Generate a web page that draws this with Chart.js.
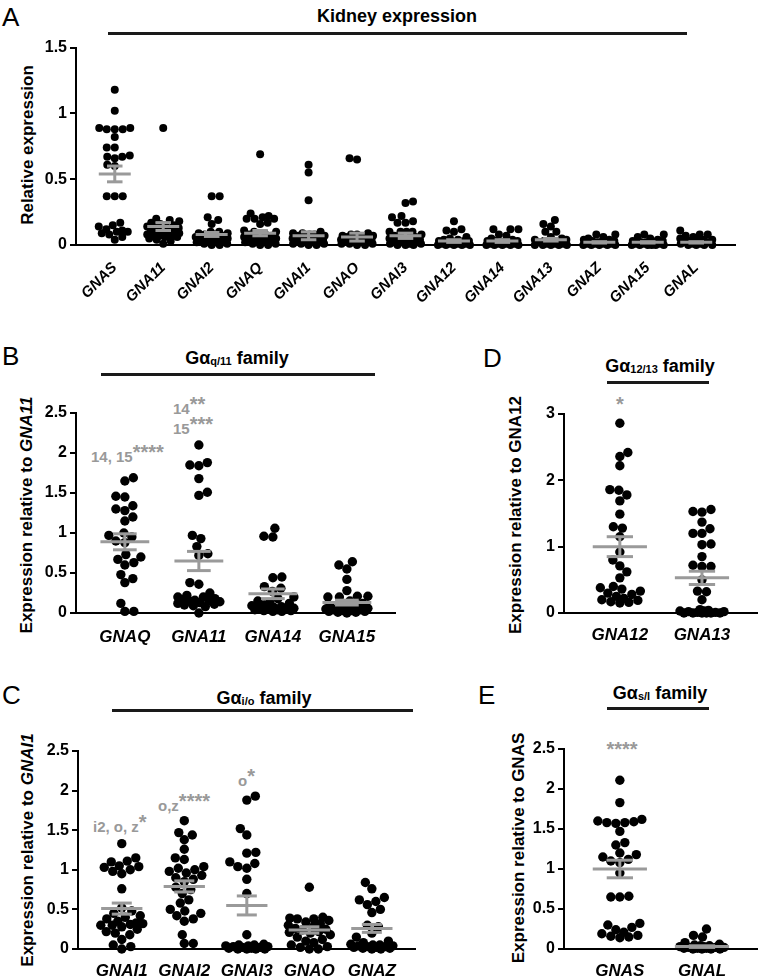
<!DOCTYPE html>
<html>
<head>
<meta charset="utf-8">
<title>G alpha subunit expression in kidney</title>
<script src="https://cdn.jsdelivr.net/npm/chart.js@4.4.1/dist/chart.umd.min.js"></script>
<style>
  body { margin:0; width:762px; height:980px; position:relative; overflow:hidden; background:#fff; font-family:'Liberation Sans', Arial, sans-serif; color:#000; }
  canvas { position:absolute; }
  .t { position:absolute; white-space:nowrap; line-height:1; }
  .letter { font-size:26px; }
  .head { font-size:18px; font-weight:bold; transform:translate(-50%,-50%); }
  .head sub { font-size:11px; vertical-align:-1px; }
  .bar { position:absolute; height:3px; background:#1a1a1a; }
  .ytitle { font-size:17px; font-weight:bold; transform:translate(-50%,-50%) rotate(-90deg); }
  .ann { font-size:15px; font-weight:bold; color:#999; }
  .ann .st { font-size:20px; position:relative; top:-3px; }
  .star { font-size:20px; font-weight:bold; color:#999; transform:translateX(-50%); }
</style>
</head>
<body>
  <!-- A -->
  <div class="t letter" style="left:2px;top:4px">A</div>
  <div class="t head" style="left:397px;top:16px">Kidney expression</div>
  <div class="bar" style="left:108px;top:32px;width:579px"></div>
  <div class="t ytitle" style="left:27px;top:145px">Relative expression</div>
  <canvas id="chartA" width="750" height="270" style="left:0;top:35px"></canvas>

  <!-- B -->
  <div class="t letter" style="left:2px;top:343px">B</div>
  <div class="t head" style="left:237px;top:358px">Gα<sub>q/11</sub> family</div>
  <div class="bar" style="left:101px;top:373px;width:274px"></div>
  <div class="t ytitle" style="left:26px;top:515px">Expression relative to <i>GNA11</i></div>
  <div class="t ann" style="left:91px;top:445px">14, 15<span class="st">****</span></div>
  <div class="t ann" style="left:173px;top:397px">14<span class="st">**</span></div>
  <div class="t ann" style="left:173px;top:417px">15<span class="st">***</span></div>
  <canvas id="chartB" width="410" height="270" style="left:0;top:380px"></canvas>

  <!-- D -->
  <div class="t letter" style="left:483px;top:345px">D</div>
  <div class="t head" style="left:660px;top:366px">Gα<sub>12/13</sub> family</div>
  <div class="bar" style="left:607px;top:381px;width:102px"></div>
  <div class="t ytitle" style="left:515px;top:515px">Expression relative to GNA12</div>
  <div class="t star" style="left:620px;top:394px">*</div>
  <canvas id="chartD" width="272" height="270" style="left:490px;top:380px"></canvas>

  <!-- C -->
  <div class="t letter" style="left:2px;top:682px">C</div>
  <div class="t head" style="left:264px;top:698px">Gα<sub>i/o</sub> family</div>
  <div class="bar" style="left:112px;top:709px;width:301px"></div>
  <div class="t ytitle" style="left:27px;top:850px">Expression relative to <i>GNAI1</i></div>
  <div class="t ann" style="left:93px;top:815px">i2, o, z<span class="st">*</span></div>
  <div class="t ann" style="left:158px;top:794px">o,z<span class="st">****</span></div>
  <div class="t ann" style="left:238px;top:769px">o<span class="st">*</span></div>
  <canvas id="chartC" width="425" height="260" style="left:0;top:720px"></canvas>

  <!-- E -->
  <div class="t letter" style="left:478px;top:682px">E</div>
  <div class="t head" style="left:660px;top:693px">Gα<sub>s/l</sub> family</div>
  <div class="bar" style="left:607px;top:707px;width:102px"></div>
  <div class="t ytitle" style="left:518px;top:848px">Expression relative to GNAS</div>
  <div class="t star" style="left:622px;top:739px">****</div>
  <canvas id="chartE" width="272" height="260" style="left:490px;top:720px"></canvas>

<script>
// ---------------- Data ----------------
const kidneyGenes = ["GNAS", "GNA11", "GNAI2", "GNAQ", "GNAI1", "GNAO", "GNAI3", "GNA12", "GNA14", "GNA13", "GNAZ", "GNA15", "GNAL"];
const kidneyValues = [
  [1.18, 1.02, 0.89, 0.88, 0.88, 0.89, 0.88, 0.82, 0.74, 0.74, 0.68, 0.67, 0.66, 0.67, 0.61, 0.6, 0.37, 0.37, 0.37, 0.17, 0.15, 0.14, 0.12, 0.11, 0.1, 0.1, 0.09, 0.08, 0.06, 0.04],
  [0.89, 0.2, 0.19, 0.18, 0.17, 0.16, 0.15, 0.15, 0.14, 0.14, 0.13, 0.12, 0.12, 0.11, 0.1, 0.1, 0.09, 0.09, 0.08, 0.08, 0.08, 0.07, 0.07, 0.06, 0.06, 0.05, 0.04, 0.03, 0.01],
  [0.37, 0.37, 0.21, 0.19, 0.16, 0.1, 0.1, 0.09, 0.09, 0.08, 0.08, 0.07, 0.07, 0.06, 0.06, 0.05, 0.05, 0.04, 0.04, 0.03, 0.03, 0.02, 0.02, 0.02, 0.01, 0.01, 0.0, 0.0],
  [0.69, 0.24, 0.22, 0.2, 0.2, 0.2, 0.21, 0.17, 0.16, 0.11, 0.1, 0.1, 0.09, 0.08, 0.08, 0.07, 0.06, 0.06, 0.05, 0.05, 0.04, 0.04, 0.03, 0.03, 0.02, 0.02, 0.01, 0.01, 0.0, 0.0],
  [0.61, 0.55, 0.34, 0.1, 0.09, 0.09, 0.08, 0.08, 0.07, 0.07, 0.06, 0.06, 0.05, 0.05, 0.04, 0.04, 0.03, 0.03, 0.03, 0.02, 0.02, 0.02, 0.01, 0.01, 0.01, 0.0, 0.0],
  [0.66, 0.65, 0.09, 0.08, 0.08, 0.07, 0.07, 0.06, 0.06, 0.05, 0.05, 0.05, 0.04, 0.04, 0.04, 0.03, 0.03, 0.03, 0.02, 0.02, 0.02, 0.01, 0.01, 0.01, 0.0, 0.0],
  [0.33, 0.32, 0.22, 0.21, 0.18, 0.17, 0.17, 0.1, 0.1, 0.1, 0.1, 0.08, 0.07, 0.06, 0.06, 0.05, 0.05, 0.04, 0.04, 0.03, 0.03, 0.02, 0.02, 0.02, 0.01, 0.01, 0.01, 0.0, 0.0, 0.0],
  [0.18, 0.12, 0.11, 0.1, 0.06, 0.05, 0.04, 0.04, 0.03, 0.03, 0.03, 0.02, 0.02, 0.02, 0.02, 0.01, 0.01, 0.01, 0.01, 0.0, 0.0, 0.0, 0.0, 0.0],
  [0.12, 0.12, 0.12, 0.08, 0.07, 0.05, 0.04, 0.03, 0.03, 0.03, 0.02, 0.02, 0.02, 0.01, 0.01, 0.01, 0.01, 0.0, 0.0, 0.0, 0.0, 0.0],
  [0.19, 0.16, 0.14, 0.1, 0.1, 0.06, 0.05, 0.04, 0.04, 0.03, 0.03, 0.02, 0.02, 0.02, 0.01, 0.01, 0.01, 0.0, 0.0, 0.0, 0.0, 0.0],
  [0.08, 0.08, 0.06, 0.05, 0.04, 0.04, 0.03, 0.03, 0.02, 0.02, 0.02, 0.01, 0.01, 0.01, 0.01, 0.0, 0.0, 0.0, 0.0, 0.0],
  [0.08, 0.08, 0.06, 0.05, 0.04, 0.03, 0.03, 0.02, 0.02, 0.02, 0.01, 0.01, 0.01, 0.01, 0.0, 0.0, 0.0, 0.0, 0.0, 0.0],
  [0.11, 0.08, 0.08, 0.07, 0.06, 0.05, 0.04, 0.04, 0.03, 0.03, 0.02, 0.02, 0.01, 0.01, 0.01, 0.0, 0.0, 0.0, 0.0]
];
const kidneyMeans = [0.54, 0.14, 0.08, 0.09, 0.07, 0.06, 0.07, 0.03, 0.03, 0.04, 0.02, 0.02, 0.02];
const kidneySems = [0.06, 0.03, 0.015, 0.02, 0.03, 0.03, 0.02, 0.01, 0.01, 0.01, 0.005, 0.005, 0.005];

const qGenes = ["GNAQ", "GNA11", "GNA14", "GNA15"];
const qValues = [
  [1.69, 1.65, 1.46, 1.45, 1.34, 1.3, 1.28, 1.2, 1.15, 1.0, 0.97, 0.95, 0.9, 0.88, 0.73, 0.7, 0.67, 0.63, 0.6, 0.48, 0.43, 0.38, 0.12, 0.02, 0.02],
  [2.1, 1.88, 1.85, 1.84, 1.68, 1.51, 1.47, 0.97, 0.93, 0.83, 0.74, 0.72, 0.38, 0.36, 0.25, 0.22, 0.2, 0.2, 0.18, 0.17, 0.16, 0.15, 0.15, 0.14, 0.13, 0.12, 0.11, 0.1, 0.09, 0.08, 0.0],
  [1.06, 0.96, 0.95, 0.45, 0.44, 0.33, 0.31, 0.27, 0.2, 0.18, 0.15, 0.13, 0.12, 0.1, 0.09, 0.08, 0.07, 0.06, 0.06, 0.05, 0.05, 0.04, 0.04, 0.03, 0.03, 0.02, 0.02],
  [0.64, 0.6, 0.55, 0.42, 0.28, 0.21, 0.21, 0.2, 0.2, 0.15, 0.12, 0.1, 0.09, 0.08, 0.07, 0.06, 0.05, 0.05, 0.04, 0.04, 0.03, 0.03, 0.02, 0.02, 0.01, 0.01, 0.0]
];
const qMeans = [0.89, 0.65, 0.24, 0.13];
const qSems = [0.1, 0.12, 0.06, 0.03];

const ioGenes = ["GNAI1", "GNAI2", "GNAI3", "GNAO", "GNAZ"];
const ioValues = [
  [1.33, 1.15, 1.11, 1.1, 1.05, 1.04, 1.03, 1.0, 0.98, 0.95, 0.76, 0.52, 0.48, 0.45, 0.42, 0.4, 0.38, 0.35, 0.33, 0.32, 0.31, 0.3, 0.3, 0.28, 0.25, 0.22, 0.2, 0.18, 0.12, 0.05, 0.03, 0.0],
  [1.62, 1.47, 1.44, 1.38, 1.26, 1.15, 1.13, 1.04, 1.02, 1.0, 0.98, 0.96, 0.93, 0.9, 0.88, 0.85, 0.78, 0.75, 0.7, 0.62, 0.58, 0.5, 0.48, 0.45, 0.42, 0.38, 0.35, 0.18, 0.07, 0.07],
  [1.93, 1.88, 1.52, 1.44, 1.22, 1.21, 1.1, 1.08, 1.04, 1.02, 0.88, 0.7, 0.18, 0.06, 0.05, 0.05, 0.04, 0.04, 0.03, 0.03, 0.02, 0.02, 0.01, 0.01, 0.0, 0.0, 0.0, 0.0],
  [0.78, 0.4, 0.39, 0.38, 0.38, 0.36, 0.34, 0.32, 0.3, 0.28, 0.26, 0.25, 0.24, 0.22, 0.21, 0.2, 0.18, 0.15, 0.12, 0.1, 0.08, 0.05, 0.03, 0.02, 0.0, 0.0],
  [0.84, 0.76, 0.65, 0.62, 0.6, 0.56, 0.5, 0.46, 0.3, 0.28, 0.2, 0.15, 0.1, 0.08, 0.06, 0.05, 0.05, 0.04, 0.04, 0.03, 0.03, 0.02, 0.02, 0.01, 0.01, 0.0, 0.0]
];
const ioMeans = [0.51, 0.79, 0.55, 0.24, 0.26];
const ioSems = [0.07, 0.07, 0.12, 0.04, 0.05];

const g12Genes = ["GNA12", "GNA13"];
const g12Values = [
  [2.86, 2.42, 2.36, 2.22, 1.86, 1.85, 1.78, 1.69, 1.49, 1.3, 1.28, 1.15, 0.92, 0.8, 0.71, 0.62, 0.53, 0.4, 0.38, 0.36, 0.33, 0.3, 0.28, 0.25, 0.22, 0.2, 0.19, 0.17, 0.16, 0.15],
  [1.56, 1.53, 1.52, 1.37, 1.27, 1.2, 1.2, 1.04, 1.03, 0.85, 0.72, 0.7, 0.7, 0.5, 0.33, 0.32, 0.2, 0.05, 0.04, 0.03, 0.03, 0.02, 0.02, 0.01, 0.01, 0.0, 0.0, 0.0, 0.0, 0.0, 0.0]
];
const g12Means = [1.0, 0.53];
const g12Sems = [0.15, 0.1];

const sGenes = ["GNAS", "GNAL"];
const sValues = [
  [2.11, 1.83, 1.62, 1.6, 1.59, 1.58, 1.58, 1.57, 1.47, 1.33, 1.3, 1.2, 1.18, 1.15, 1.12, 1.1, 1.08, 0.95, 0.66, 0.65, 0.65, 0.32, 0.3, 0.27, 0.24, 0.21, 0.19, 0.17, 0.16, 0.15, 0.14],
  [0.25, 0.17, 0.15, 0.08, 0.06, 0.05, 0.04, 0.04, 0.03, 0.03, 0.02, 0.02, 0.02, 0.01, 0.01, 0.01, 0.0, 0.0, 0.0, 0.0]
];
const sMeans = [1.0, 0.03];
const sSems = [0.11, 0.01];

const FONT = "'Liberation Sans', Arial, sans-serif";

// ---------------- Mean +/- SEM bars ----------------
const meanSem = {
  id: 'meanSem',
  afterDatasetsDraw(chart, args, o) {
    const { ctx, scales: { x, y } } = chart;
    ctx.save();
    ctx.strokeStyle = '#9a9a9a';
    ctx.lineWidth = 3;
    const seg = (x0, y0, x1, y1) => {
      ctx.beginPath();
      ctx.moveTo(x.getPixelForValue(x0), y.getPixelForValue(y0));
      ctx.lineTo(x.getPixelForValue(x1), y.getPixelForValue(y1));
      ctx.stroke();
    };
    o.means.forEach((m, i) => {
      const s = o.sems[i];
      seg(i, m - s, i, m + s);
      seg(i - 0.33, m, i + 0.33, m);
      seg(i - 0.16, m + s, i + 0.16, m + s);
      seg(i - 0.16, m - s, i + 0.16, m - s);
    });
    ctx.restore();
  }
};

// ---------------- Beeswarm spread (pixel space) ----------------
function swarm(chart, values, r, spread) {
  const xs = chart.scales.x, ys = chart.scales.y;
  const unit = xs.getPixelForValue(1) - xs.getPixelForValue(0);
  const gap = 2 * r * 0.95;
  const out = [];
  values.forEach((vals, i) => {
    const placed = [];
    let side = 1;
    vals.slice().sort((a, b) => a - b).forEach(v => {
      const py = ys.getPixelForValue(v);
      let pick = null, best = 0, bestDist = -1;
      for (let d = 0; d <= spread && pick === null; d += 0.5) {
        for (const dx of (d === 0 ? [0] : [d * side, -d * side])) {
          let near = Infinity;
          for (const p of placed) near = Math.min(near, Math.hypot(p.x - dx, p.y - py));
          if (near >= gap) { pick = dx; break; }
          if (near > bestDist) { bestDist = near; best = dx; }
        }
      }
      const dx = pick === null ? best : pick;
      if (dx !== 0) side = -Math.sign(dx);
      placed.push({ x: dx, y: py });
      out.push({ x: i + dx / unit, y: v });
    });
  });
  return out;
}

function makePanel(id, cfg) {
  const chart = new Chart(document.getElementById(id), {
    type: 'scatter',
    data: { datasets: [{ data: [], backgroundColor: '#000', borderWidth: 0, pointRadius: cfg.r, clip: false }] },
    options: {
      responsive: false, animation: false, events: [],
      layout: { padding: { top: cfg.padTop, right: cfg.padRight, left: 0, bottom: 0 } },
      plugins: { legend: { display: false }, tooltip: { enabled: false }, meanSem: { means: cfg.means, sems: cfg.sems } },
      scales: {
        x: {
          type: 'linear', min: cfg.xMin, max: cfg.xMax,
          afterBuildTicks: s => { s.ticks = cfg.genes.map((g, i) => ({ value: i })); },
          afterFit: s => { s.height = cfg.xHeight; },
          grid: { display: false },
          border: { color: '#000', width: 2 },
          ticks: {
            autoSkip: false, minRotation: cfg.rot, maxRotation: cfg.rot, padding: cfg.xPad, color: '#000',
            font: { family: FONT, size: cfg.xFont, style: 'italic', weight: 'bold' },
            callback: v => cfg.genes[v]
          }
        },
        y: {
          min: 0, max: cfg.yMax,
          afterFit: s => { s.width = cfg.yWidth; },
          grid: { drawOnChartArea: false, drawTicks: true, tickLength: 6, color: '#000', lineWidth: 2 },
          border: { color: '#000', width: 2 },
          ticks: {
            stepSize: cfg.yStep, padding: 3, color: '#000',
            font: { family: FONT, size: 16, weight: 'bold' },
            callback: v => String(Math.round(v * 100) / 100)
          }
        }
      }
    },
    plugins: [meanSem]
  });
  chart.data.datasets[0].data = swarm(chart, cfg.values, cfg.r, cfg.spread);
  chart.update('none');
  return chart;
}

makePanel('chartA', { genes: kidneyGenes, values: kidneyValues, means: kidneyMeans, sems: kidneySems,
  r: 4, spread: 16, xMin: -0.8, xMax: 12.8, yMax: 1.5, yStep: 0.5, rot: 45, xFont: 15, xPad: 6,
  padTop: 10, padRight: 15, yWidth: 76, xHeight: 60 });

makePanel('chartB', { genes: qGenes, values: qValues, means: qMeans, sems: qSems,
  r: 4.7, spread: 21, xMin: -0.66, xMax: 3.65, yMax: 2.5, yStep: 0.5, rot: 0, xFont: 17, xPad: 6,
  padTop: 33, padRight: 15, yWidth: 76, xHeight: 37 });

makePanel('chartD', { genes: g12Genes, values: g12Values, means: g12Means, sems: g12Sems,
  r: 4.7, spread: 22, xMin: -0.68, xMax: 1.67, yMax: 3, yStep: 1, rot: 0, xFont: 17, xPad: 4,
  padTop: 34, padRight: 5, yWidth: 74, xHeight: 37 });

makePanel('chartC', { genes: ioGenes, values: ioValues, means: ioMeans, sems: ioSems,
  r: 4.7, spread: 21, xMin: -0.7, xMax: 4.69, yMax: 2.5, yStep: 0.5, rot: 0, xFont: 17, xPad: 4,
  padTop: 31, padRight: 10, yWidth: 78, xHeight: 31 });

makePanel('chartE', { genes: sGenes, values: sValues, means: sMeans, sems: sSems,
  r: 4.7, spread: 22, xMin: -0.68, xMax: 1.67, yMax: 2.5, yStep: 0.5, rot: 0, xFont: 17, xPad: 4,
  padTop: 29, padRight: 5, yWidth: 74, xHeight: 31 });
</script>
</body>
</html>
